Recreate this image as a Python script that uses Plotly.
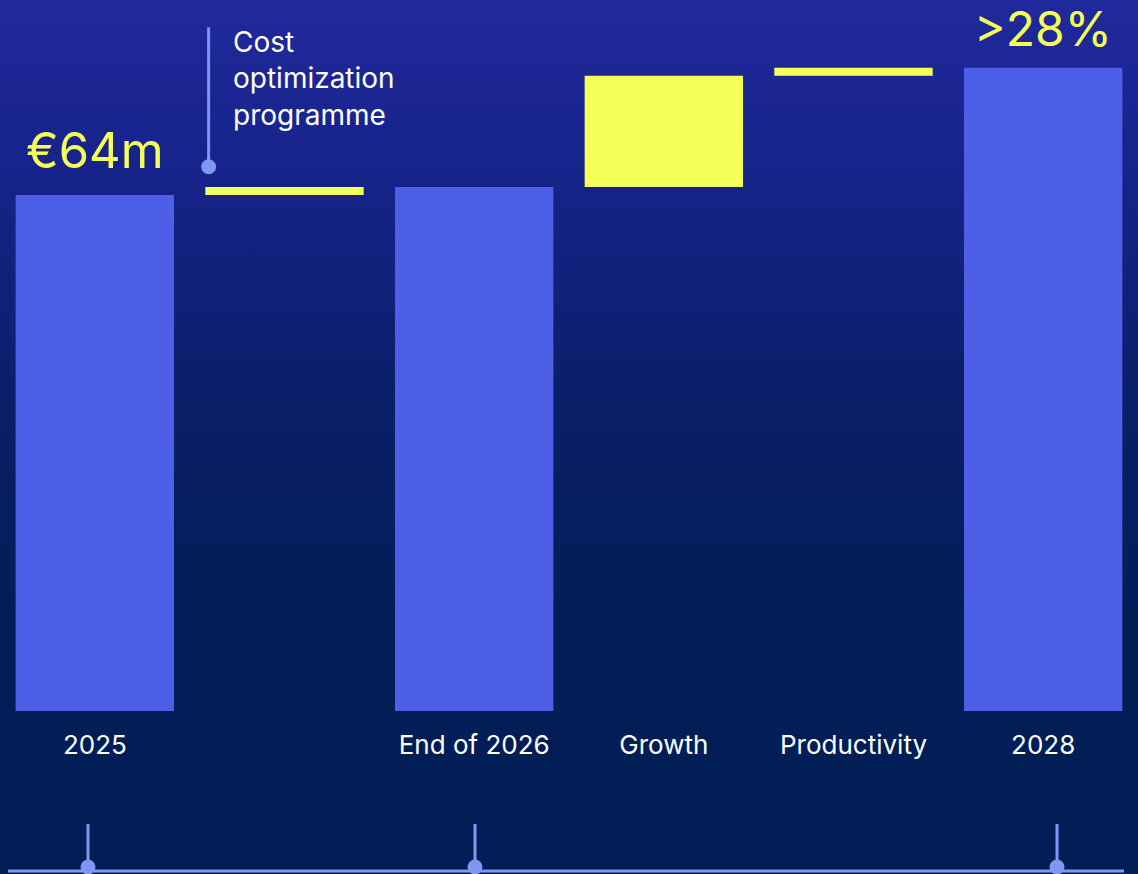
import base64
import plotly.graph_objects as go

# data
categories = ["2025", "Cost optimization", "End of 2026", "Growth", "Productivity", "2028"]
tick_labels = ["2025", "", "End of 2026", "Growth", "Productivity", "2028"]
measures = ["absolute", "relative", "total", "relative", "relative", "total"]
values = [64, 1.0, 0, 13.8, 1.0, 0]
start_label = "€64m"
end_label = ">28%"
note_text = "Cost<br>optimization<br>programme"

BLUE = "#4d5fe6"
YELLOW = "#f5ff57"
PIN = "#7f96f3"
FONT = "Inter, Roboto, sans-serif"

# gradient background as an svg image
svg = (
    '<svg xmlns="http://www.w3.org/2000/svg" width="1138" height="874" preserveAspectRatio="none">'
    '<defs><linearGradient id="g" x1="0" y1="0" x2="0" y2="1">'
    '<stop offset="0" stop-color="#20299c"/>'
    '<stop offset="0.2" stop-color="#16238a"/>'
    '<stop offset="0.45" stop-color="#0a1f69"/>'
    '<stop offset="0.7" stop-color="#021e57"/>'
    '<stop offset="1" stop-color="#021e57"/>'
    '</linearGradient></defs>'
    '<rect width="1138" height="874" fill="url(#g)"/></svg>'
)
bg_src = "data:image/svg+xml;base64," + base64.b64encode(svg.encode()).decode()

fig = go.Figure(go.Waterfall(
    x=categories,
    y=values,
    measure=measures,
    totals=dict(marker=dict(color=BLUE)),
    increasing=dict(marker=dict(color=YELLOW)),
    decreasing=dict(marker=dict(color=YELLOW)),
    connector=dict(visible=False),
    hoverinfo="skip",
    textinfo="none",
))

fig.update_layout(
    width=1138, height=874,
    margin=dict(l=0, r=0, t=0, b=0),
    paper_bgcolor="#021e57",
    plot_bgcolor="rgba(0,0,0,0)",
    showlegend=False,
    waterfallgap=0.165,
    font=dict(family=FONT, color="white"),
    images=[dict(source=bg_src, xref="paper", yref="paper", x=0, y=1,
                 sizex=1, sizey=1, sizing="stretch", layer="below")],
)
fig.update_xaxes(
    type="category", range=[-0.5, 5.5], automargin=False,
    tickmode="array", tickvals=categories, ticktext=tick_labels, tickangle=0,
    tickfont=dict(size=26, color="white", family=FONT),
    ticks="outside", ticklen=11, tickcolor="rgba(0,0,0,0)",
    showgrid=False, zeroline=False, showline=False, fixedrange=True,
)
fig.update_yaxes(
    range=[0, 88.19], domain=[0.1865, 1], automargin=False,
    showgrid=False, zeroline=False, showticklabels=False, fixedrange=True,
)

# value labels (x as category index)
fig.add_annotation(x=0, y=64, text=start_label, showarrow=False,
                   yanchor="middle", yshift=45,
                   font=dict(size=49, color=YELLOW, family=FONT))
fig.add_annotation(x=5, y=79.8, text=end_label, showarrow=False,
                   yanchor="middle", yshift=39,
                   font=dict(size=48, color=YELLOW, family=FONT))

# pin for cost optimization note
fig.add_shape(type="line", xref="x", yref="y", x0=0.6, x1=0.6, y0=67.5, y1=84.8,
              line=dict(color=PIN, width=3))
fig.add_shape(type="circle", xref="x", yref="y", xsizemode="pixel", ysizemode="pixel",
              xanchor=0.6, yanchor=67.5, x0=-7.5, x1=7.5, y0=-7.5, y1=7.5,
              fillcolor=PIN, line=dict(width=0))
fig.add_annotation(xref="paper", yref="paper", x=231 / 1138, y=1 - 23 / 874,
                   xanchor="left", yanchor="top", align="left", showarrow=False,
                   text=note_text, font=dict(size=28, color="white", family=FONT))

# timeline at the bottom
line_y = 1 - 871 / 874
fig.add_shape(type="line", xref="paper", yref="paper", x0=8 / 1138, x1=1124 / 1138,
              y0=line_y, y1=line_y, line=dict(color=PIN, width=3))
for px in [88, 475, 1057]:
    fx = px / 1138
    fig.add_shape(type="line", xref="paper", yref="paper", x0=fx, x1=fx,
                  y0=line_y, y1=1 - 824 / 874, line=dict(color=PIN, width=3))
    fig.add_shape(type="circle", xref="paper", yref="paper",
                  xsizemode="pixel", ysizemode="pixel", xanchor=fx, yanchor=1 - 867 / 874,
                  x0=-7.5, x1=7.5, y0=-7.5, y1=7.5, fillcolor=PIN, line=dict(width=0))

fig.write_html("out.html", config={"displayModeBar": False},
               post_script="document.body.style.margin='0';document.body.style.overflow='hidden';")
